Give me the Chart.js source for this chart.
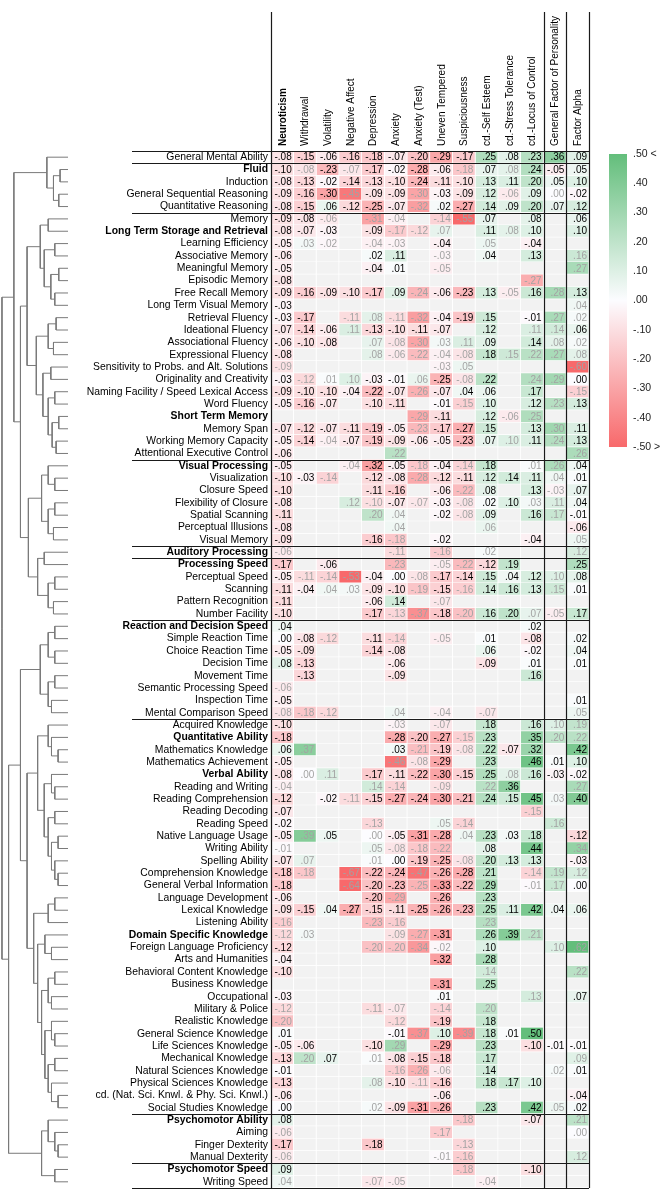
<!DOCTYPE html>
<html>
<head>
<meta charset="utf-8">
<script src="https://cdn.jsdelivr.net/npm/chart.js@4.4.1/dist/chart.umd.min.js"></script>
<style>
  html, body { margin: 0; padding: 0; background: #fff; }
  #wrap { position: relative; width: 672px; height: 1200px; }
  canvas { position: absolute; }
  #heat { left: 0; top: 0; }
  #tree { left: 0; top: 151px; }
  #key { left: 600px; top: 140px; }
</style>
</head>
<body>
<div id="wrap">
  <canvas id="heat" width="672" height="1200"></canvas>
  <canvas id="tree" width="68" height="1037"></canvas>
  <canvas id="key" width="72" height="330"></canvas>
</div>
<script>
const FONT = '"Liberation Sans", Arial, sans-serif';
const _ = null;

const columns = ['Neuroticism', 'Withdrawal', 'Volatility', 'Negative Affect', 'Depression', 'Anxiety',
  'Anxiety (Test)', 'Uneven Tempered', 'Suspiciousness', 'cd.-Self Esteem', 'cd.-Stress Tolerance',
  'cd.-Locus of Control', 'General Factor of Personality', 'Factor Alpha'];

const rows = ['General Mental Ability', 'Fluid', 'Induction', 'General Sequential Reasoning', 'Quantitative Reasoning',
  'Memory', 'Long Term Storage and Retrieval', 'Learning Efficiency', 'Associative Memory', 'Meaningful Memory',
  'Episodic Memory', 'Free Recall Memory', 'Long Term Visual Memory', 'Retrieval Fluency', 'Ideational Fluency',
  'Associational Fluency', 'Expressional Fluency', 'Sensitivity to Probs. and Alt. Solutions', 'Originality and Creativity',
  'Naming Facility / Speed Lexical Access', 'Word Fluency', 'Short Term Memory', 'Memory Span', 'Working Memory Capacity',
  'Attentional Executive Control', 'Visual Processing', 'Visualization', 'Closure Speed', 'Flexibility of Closure',
  'Spatial Scanning', 'Perceptual Illusions', 'Visual Memory', 'Auditory Processing', 'Processing Speed',
  'Perceptual Speed', 'Scanning', 'Pattern Recognition', 'Number Facility', 'Reaction and Decision Speed',
  'Simple Reaction Time', 'Choice Reaction Time', 'Decision Time', 'Movement Time', 'Semantic Processing Speed',
  'Inspection Time', 'Mental Comparison Speed', 'Acquired Knowledge', 'Quantitative Ability', 'Mathematics Knowledge',
  'Mathematics Achievement', 'Verbal Ability', 'Reading and Writing', 'Reading Comprehension', 'Reading Decoding',
  'Reading Speed', 'Native Language Usage', 'Writing Ability', 'Spelling Ability', 'Comprehension Knowledge',
  'General Verbal Information', 'Language Development', 'Lexical Knowledge', 'Listening Ability',
  'Domain Specific Knowledge', 'Foreign Language Proficiency', 'Arts and Humanities', 'Behavioral Content Knowledge',
  'Business Knowledge', 'Occupational', 'Military & Police', 'Realistic Knowledge', 'General Science Knowledge',
  'Life Sciences Knowledge', 'Mechanical Knowledge', 'Natural Sciences Knowledge', 'Physical Sciences Knowledge',
  'cd. (Nat. Sci. Knwl. & Phy. Sci. Knwl.)', 'Social Studies Knowledge', 'Psychomotor Ability', 'Aiming',
  'Finger Dexterity', 'Manual Dexterity', 'Psychomotor Speed', 'Writing Speed'];

// rows printed in bold, and rows that start a new block (black rule above)
const boldRows = [1, 6, 21, 25, 32, 33, 38, 47, 50, 63, 78, 82];
const blockStarts = [0, 1, 5, 25, 32, 33, 38, 46, 78, 82, 84];

// correlations, one list per row, columns in the order above (_ = no estimate)
const values = [
  [-.08,-.15,-.06,-.16,-.18,-.07,-.20,-.29,-.17,.25,.08,.23,.36,.09],
  [-.10,-.08,-.23,-.07,-.17,-.02,-.28,-.06,-.18,.07,.08,.24,-.05,.05],
  [-.08,-.13,-.02,-.14,-.13,-.10,-.24,-.11,-.10,.13,.11,.20,.05,.10],
  [-.09,-.16,-.30,-.45,-.09,-.09,-.30,-.03,-.09,.12,-.06,.09,.00,-.02],
  [-.08,-.15,.06,-.12,-.25,-.07,-.32,.02,-.27,.14,.09,.20,.07,.12],
  [-.09,-.08,-.06,_,-.31,-.04,_,-.14,-.55,.07,_,.08,_,.06],
  [-.08,-.07,-.03,_,-.09,-.17,-.12,.07,_,.11,.08,.10,_,.10],
  [-.05,.03,-.02,_,-.04,-.03,_,-.04,_,.05,_,-.04,_,_],
  [-.06,_,_,_,.02,.11,_,-.03,_,.04,_,.13,_,.16],
  [-.05,_,_,_,-.04,.01,_,-.05,_,_,_,_,_,.27],
  [-.08,_,_,_,_,_,_,_,_,_,_,-.27,_,_],
  [-.09,-.16,-.09,-.10,-.17,.09,-.24,-.06,-.23,.13,-.05,.16,.28,.13],
  [-.03,_,_,_,_,_,_,_,_,_,_,_,_,.04],
  [-.03,-.17,_,-.11,.08,-.11,-.32,-.04,-.19,.15,_,-.01,.27,.02],
  [-.07,-.14,-.06,.11,-.13,-.10,-.11,-.07,_,.12,_,.11,.14,.06],
  [-.06,-.10,-.08,_,.07,-.08,-.30,.03,.11,.09,_,.14,.08,.02],
  [-.08,_,_,_,.08,-.06,-.22,-.04,-.08,.18,.15,.22,.27,.08],
  [-.09,_,_,_,_,_,_,-.03,.05,_,_,_,_,-.60],
  [-.03,-.12,.01,.10,-.03,-.01,.06,-.25,-.08,.22,_,.24,.29,.00],
  [-.09,-.10,-.10,-.04,-.22,-.07,-.26,-.07,.04,.06,_,.17,_,-.15],
  [-.05,-.16,-.07,_,-.10,-.11,_,-.01,-.15,.10,_,.12,.23,.13],
  [_,_,_,_,_,_,-.29,-.11,_,.12,-.06,.25,_,_],
  [-.07,-.12,-.07,-.11,-.19,-.05,-.23,-.17,-.27,.15,_,.13,.30,.11],
  [-.05,-.14,-.04,-.07,-.19,-.09,-.06,-.05,-.23,.07,.10,.11,.24,.13],
  [-.06,_,_,_,_,.22,_,_,_,_,_,_,_,.26],
  [-.05,_,_,-.04,-.32,-.05,-.18,-.04,-.14,.18,_,.01,.26,.04],
  [-.10,-.03,-.14,_,-.12,-.08,-.28,-.12,-.11,.12,.14,.11,.04,.01],
  [-.10,_,_,_,-.11,-.16,_,-.06,-.22,.08,_,.13,-.03,.07],
  [-.08,_,_,.12,-.10,-.07,-.07,-.03,-.08,.02,.10,.03,.11,.04],
  [-.11,_,_,_,.20,.04,_,-.02,-.08,.09,_,.16,.17,-.01],
  [-.08,_,_,_,_,.04,_,_,_,.06,_,_,_,-.06],
  [-.09,_,_,_,-.16,-.18,_,-.02,_,_,_,-.04,_,.05],
  [-.06,_,_,_,_,-.11,_,-.16,_,.02,_,_,_,.12],
  [-.17,_,-.06,_,_,-.23,_,-.05,-.22,-.12,.19,_,_,.25],
  [-.05,-.11,-.14,-.53,-.04,.00,-.08,-.17,-.14,.15,.04,.12,.10,.08],
  [-.11,-.04,.04,.03,-.09,-.10,-.19,-.15,-.16,.14,.16,.13,.15,.01],
  [-.11,_,_,_,-.06,.14,_,-.07,_,_,_,_,_,_],
  [-.10,_,_,_,-.17,-.13,-.37,-.18,-.20,.16,.20,.07,-.05,.17],
  [.04,_,_,_,_,_,_,_,_,_,_,.02,_,_],
  [.00,-.08,-.12,_,-.11,-.14,_,-.05,_,.01,_,-.08,_,.02],
  [-.05,-.09,_,_,-.14,-.08,_,_,_,.06,_,-.02,_,.04],
  [.08,-.13,_,_,_,-.06,_,_,_,-.09,_,.01,_,.01],
  [_,-.13,_,_,_,-.09,_,_,_,_,_,.16,_,_],
  [-.06,_,_,_,_,_,_,_,_,_,_,_,_,_],
  [-.05,_,_,_,_,_,_,_,_,_,_,_,_,.01],
  [-.08,-.18,-.12,_,_,.04,_,-.04,_,-.07,_,_,_,.05],
  [-.10,_,_,_,_,-.03,_,-.07,_,.18,_,.16,.10,.19],
  [-.18,_,_,_,_,-.28,-.20,-.27,-.15,.23,_,.35,.20,.22],
  [.06,.37,_,_,_,.03,-.21,-.19,-.08,.22,-.07,.32,_,.42],
  [-.05,_,_,_,_,-.46,-.08,-.29,_,.23,_,.46,.01,.10],
  [-.08,.00,.11,_,-.17,-.11,-.22,-.30,-.15,.25,.08,.16,-.03,-.02],
  [-.04,_,_,_,.14,-.14,_,-.09,_,.22,.36,_,_,.27],
  [-.12,_,-.02,-.11,-.15,-.27,-.24,-.30,-.21,.24,.15,.45,.03,.40],
  [-.07,_,_,_,_,_,_,_,_,_,_,-.15,_,_],
  [-.02,_,_,_,-.13,_,_,.05,-.14,_,_,_,.16,_],
  [-.05,.39,.05,_,.00,-.05,-.31,-.28,.04,.23,.03,.18,_,-.12],
  [-.01,_,_,_,.05,-.08,-.18,-.22,_,.08,_,.44,_,.34],
  [-.07,.07,_,_,.01,.00,-.19,-.25,-.08,.20,.13,.13,_,-.03],
  [-.18,-.18,_,-.67,-.22,-.24,-.47,-.26,-.28,.21,_,-.14,.19,.12],
  [-.18,_,_,-.64,-.20,-.23,-.25,-.33,-.22,.29,_,-.01,.17,.00],
  [-.06,_,_,_,-.20,-.29,_,-.26,_,.23,_,_,_,_],
  [-.09,-.15,.04,-.27,-.15,-.11,-.25,-.26,-.23,.25,.11,.42,.04,.06],
  [-.16,_,_,_,-.23,-.16,_,_,_,.23,_,_,_,_],
  [-.12,.03,_,_,_,-.09,-.27,-.31,_,.26,.39,.21,_,_],
  [-.12,_,_,_,-.20,-.20,-.34,-.02,_,.10,_,_,.10,.62],
  [-.04,_,_,_,_,_,_,-.32,_,.28,_,_,_,_],
  [-.10,_,_,_,_,_,_,_,_,.14,_,_,_,.22],
  [_,_,_,_,_,_,_,-.31,_,.25,_,_,_,_],
  [-.03,_,_,_,_,_,_,.01,_,_,_,.13,_,.07],
  [-.12,_,_,_,-.11,-.07,_,-.14,_,.20,_,_,_,_],
  [-.20,_,_,_,_,-.12,_,-.19,_,.18,_,_,_,_],
  [.01,_,_,_,_,-.01,-.37,.10,-.39,.18,.01,.50,_,_],
  [-.05,-.06,_,_,-.10,.29,_,-.29,_,.23,_,-.10,-.01,-.01],
  [-.13,.20,.07,_,.01,-.08,-.15,-.18,_,.17,_,_,_,.09],
  [-.01,_,_,_,_,-.16,-.26,-.06,_,.14,_,_,.02,.01],
  [-.13,_,_,_,.08,-.10,-.11,-.16,_,.18,.17,.10,_,_],
  [-.06,_,_,_,_,_,_,-.06,_,_,_,_,_,-.04],
  [.00,_,_,_,.02,-.09,-.31,-.26,_,.23,_,.42,.05,.02],
  [.08,_,_,_,_,_,_,_,-.18,_,_,-.07,_,.21],
  [-.06,_,_,_,_,_,_,-.17,_,_,_,_,_,.00],
  [-.17,_,_,_,-.18,_,_,_,-.13,_,_,_,_,_],
  [-.06,_,_,_,_,_,_,-.01,-.16,_,_,_,_,.12],
  [.09,_,_,_,_,_,_,_,-.18,_,_,-.10,_,_],
  [.04,_,_,_,-.07,-.05,_,_,_,-.04,_,_,_,_]
];

// 1 = estimate printed in grey
const muted = [
  '00000000000000','01010000101000','00000000000000','00010010001010','00000010000000',
  '00101101100000','00000111001000','01101100010000','00000001000001','00000001000001',
  '00000000000100','00000010001010','00000000000001','00011110000011','00010000000110',
  '00001111100011','00001111101111','10000001100001','01110010100110','00000010000001',
  '00000000100010','00000010001100','00000010000010','00100000001010','00000100000001',
  '00010010100110','00100010000010','00000000100010','00011010100110','00001100100010',
  '00000100010000','00000100000001','10000101010001','00000101100000','01110010000010',
  '00110010100010','00000001000000','00000110100110','00000000000000','00100101000000',
  '00000000000000','00000000000000','00000000000000','10000000000000','00000000000000',
  '11100101010001','00000101000011','00000000100011','01000010100000','00000110000000',
  '01100000001000','10001101010001','00010000000010','00000000000100','00001001100010',
  '01001000100000','10001111000001','01001000100000','01010010000111','00010010000110',
  '00000100000000','00000000000000','10001100010000','11000110000100','00001111000011',
  '00000000000000','00000000010001','00000000000000','00000000000100','10001101010000',
  '10000100000000','00000010100000','00000100000000','01001000000001','00000111000010',
  '00001010000000','00000000000000','00001000000010','00000000100001','10000001000001',
  '00000000100000','10000001100001','00000000100000','10001100010000'
];

// dendrogram: [height, left, right], leaves are row numbers
const treeFluid = [0.32, 0, [0.22, [0.12, 1, 2], [0.14, 3, 4]]];
const treeMemory = [0.62,
  [0.42, [0.3, 5, 6], [0.36, [0.2, 7, 8], [0.26, [0.14, 9, 10], [0.2, 11, 12]]]],
  [0.48, [0.3, [0.18, 13, 14], [0.22, 15, 16]],
         [0.38, [0.26, 17, 18], [0.3, [0.2, 19, 20], [0.24, [0.14, 21, 22], [0.18, 23, 24]]]]]];
const treeVisual = [0.4, [0.3, 25, [0.2, 26, 27]], [0.3, [0.2, 28, 29], [0.22, 30, 31]]];
const treeSpeed = [0.46, [0.36, 32, 33], [0.3, [0.2, 34, 35], [0.22, 36, 37]]];
const treeReaction = [0.42, [0.3, [0.2, 38, 39], [0.2, 40, 41]], [0.3, [0.2, 42, 43], [0.25, 44, 45]]];
const treeKnowledge = [0.62,
  [0.46, [0.3, 46, [0.25, 47, [0.15, 48, 49]]],
         [0.36, [0.25, 50, [0.2, 51, 52]], [0.3, [0.2, 53, 54], [0.25, [0.15, 55, 56], [0.2, 57, [0.15, 58, 59]]]]]],
  [0.52, [0.3, [0.2, 60, 61], 62],
         [0.46, [0.35, 63, [0.25, 64, 65]],
                [0.4, [0.3, [0.2, 66, 67], [0.25, 68, 69]],
                      [0.35, [0.25, 70, [0.2, 71, 72]], [0.3, [0.2, 73, 74], [0.25, 75, [0.15, 76, 77]]]]]]]];
const treePsycho = [0.4, [0.3, 78, [0.2, 79, [0.15, 80, 81]]], [0.2, 82, 83]];
const tree = [1.0,
  [0.82, treeFluid, [0.72, treeMemory, [0.6, treeVisual, treeSpeed]]],
  [0.9, [0.72, treeReaction, treeKnowledge], treePsycho]];

const RED = [248, 105, 107], WHITE = [252, 252, 255], GREEN = [99, 190, 123];
function cellColour(v) {
  if (v === null) return '#f2f2f2';
  const t = Math.min(Math.abs(v) / 0.5, 1);
  const end = v < 0 ? RED : GREEN;
  const c = WHITE.map((w, i) => Math.round(w + (end[i] - w) * t));
  return `rgb(${c[0]},${c[1]},${c[2]})`;
}
function fmt(v) {
  return v.toFixed(2).replace('0.', '.');
}

/* cell numbers, column heads and black rules */
const tablePlugin = {
  id: 'tableText',
  afterDatasetsDraw(chart) {
    const { ctx, chartArea: a, scales: { x } } = chart;
    const band = (a.bottom - a.top) / rows.length;
    ctx.save();
    ctx.font = '10px ' + FONT;
    ctx.textAlign = 'right';
    ctx.textBaseline = 'middle';
    chart.data.datasets.forEach((ds, c) => {
      chart.getDatasetMeta(c).data.forEach((bar, r) => {
        const v = values[r][c];
        if (v === null) return;
        ctx.fillStyle = muted[r][c] === '1' ? '#a3a3a3' : '#000';
        ctx.fillText(fmt(v), Math.max(bar.x, bar.base) - 2, bar.y + 0.5);
      });
    });

    // rotated column heads, reading upwards from just above the table
    ctx.textAlign = 'left';
    ctx.fillStyle = '#000';
    columns.forEach((col, i) => {
      ctx.save();
      ctx.translate(x.getPixelForValue(i + 0.5) + 0.5, a.top - 5);
      ctx.rotate(-Math.PI / 2);
      ctx.font = (i === 0 ? 'bold ' : '') + '10px ' + FONT;
      ctx.fillText(col, 0, 0);
      ctx.restore();
    });

    ctx.strokeStyle = '#1a1a1a';
    ctx.lineWidth = 1.2;
    ctx.beginPath();
    blockStarts.forEach(r => {
      const yy = Math.round(a.top + r * band) + 0.5;
      ctx.moveTo(132, yy); ctx.lineTo(a.right, yy);
    });
    [0, 12, 13, 14].forEach(c => {
      const xx = Math.round(x.getPixelForValue(c)) + 0.5;
      ctx.moveTo(xx, 12); ctx.lineTo(xx, a.bottom);
    });
    ctx.stroke();
    ctx.restore();
  }
};

new Chart(document.getElementById('heat'), {
  type: 'bar',
  data: {
    labels: rows,
    datasets: columns.map((col, c) => ({
      label: col,
      data: rows.map(() => [c, c + 1]),
      backgroundColor: rows.map((r, i) => cellColour(values[i][c])),
      borderColor: '#ffffff',
      borderWidth: { top: 0, left: 0, right: 1, bottom: 1 },
      borderSkipped: false,
      barPercentage: 1,
      categoryPercentage: 1,
      grouped: false
    }))
  },
  options: {
    indexAxis: 'y',
    responsive: false,
    animation: false,
    layout: { padding: { left: 0, top: 0, right: 83, bottom: 12 } },
    plugins: { legend: { display: false }, tooltip: { enabled: false } },
    scales: {
      x: {
        type: 'linear', position: 'top', min: 0, max: 14,
        afterFit: s => { s.height = 151; },
        grid: { display: false, drawTicks: false },
        border: { display: false },
        ticks: { display: false }
      },
      y: {
        afterFit: s => { s.width = 271; },
        grid: { display: false, drawTicks: false },
        border: { display: false },
        ticks: {
          autoSkip: false, padding: 3, color: '#000',
          font: ctx => ({ family: FONT, size: 10.4, weight: boldRows.includes(ctx.index) ? 'bold' : 'normal' })
        }
      }
    }
  },
  plugins: [tablePlugin]
});

/* dendrogram */
function treeSegments(node, out) {
  if (typeof node === 'number') return { y: node, h: 0 };
  const [h, left, right] = node;
  const a = treeSegments(left, out), b = treeSegments(right, out);
  out.push([{ x: a.h, y: a.y }, { x: h, y: a.y }, { x: h, y: b.y }, { x: b.h, y: b.y }]);
  return { y: (a.y + b.y) / 2, h };
}
const segments = [];
treeSegments(tree, segments);

new Chart(document.getElementById('tree'), {
  type: 'scatter',
  data: {
    datasets: segments.map(seg => ({
      data: seg, showLine: true, pointRadius: 0, borderColor: '#7a7a7a', borderWidth: 1, tension: 0
    }))
  },
  options: {
    responsive: false, animation: false,
    layout: { padding: 0 },
    plugins: { legend: { display: false }, tooltip: { enabled: false } },
    scales: {
      x: { type: 'linear', min: 0, max: 1.03, reverse: true, display: false },
      y: { type: 'linear', min: -0.5, max: rows.length - 0.5, reverse: true, display: false }
    }
  }
});

/* colour key */
new Chart(document.getElementById('key'), {
  type: 'bar',
  data: {
    labels: ['r'],
    datasets: [{
      data: [[-0.5, 0.5]],
      barPercentage: 1, categoryPercentage: 1,
      backgroundColor: ctx => {
        const area = ctx.chart.chartArea;
        if (!area) return '#fff';
        const g = ctx.chart.ctx.createLinearGradient(0, area.bottom, 0, area.top);
        g.addColorStop(0, `rgb(${RED})`);
        g.addColorStop(0.5, `rgb(${WHITE})`);
        g.addColorStop(1, `rgb(${GREEN})`);
        return g;
      }
    }]
  },
  options: {
    responsive: false, animation: false,
    layout: { padding: { left: 9, top: 14, right: 0, bottom: 23 } },
    plugins: { legend: { display: false }, tooltip: { enabled: false } },
    scales: {
      x: { display: false },
      y: {
        position: 'right', min: -0.5, max: 0.5,
        afterFit: s => { s.width = 45; },
        grid: { display: false, drawTicks: false },
        border: { display: false },
        ticks: {
          stepSize: 0.1, padding: 6, color: '#222',
          font: { family: FONT, size: 10.5 },
          callback: v => {
            const s = fmt(Math.round(v * 100) / 100);
            return v > 0.49 ? s + ' <' : v < -0.49 ? s + ' >' : s;
          }
        }
      }
    }
  }
});
</script>
</body>
</html>
